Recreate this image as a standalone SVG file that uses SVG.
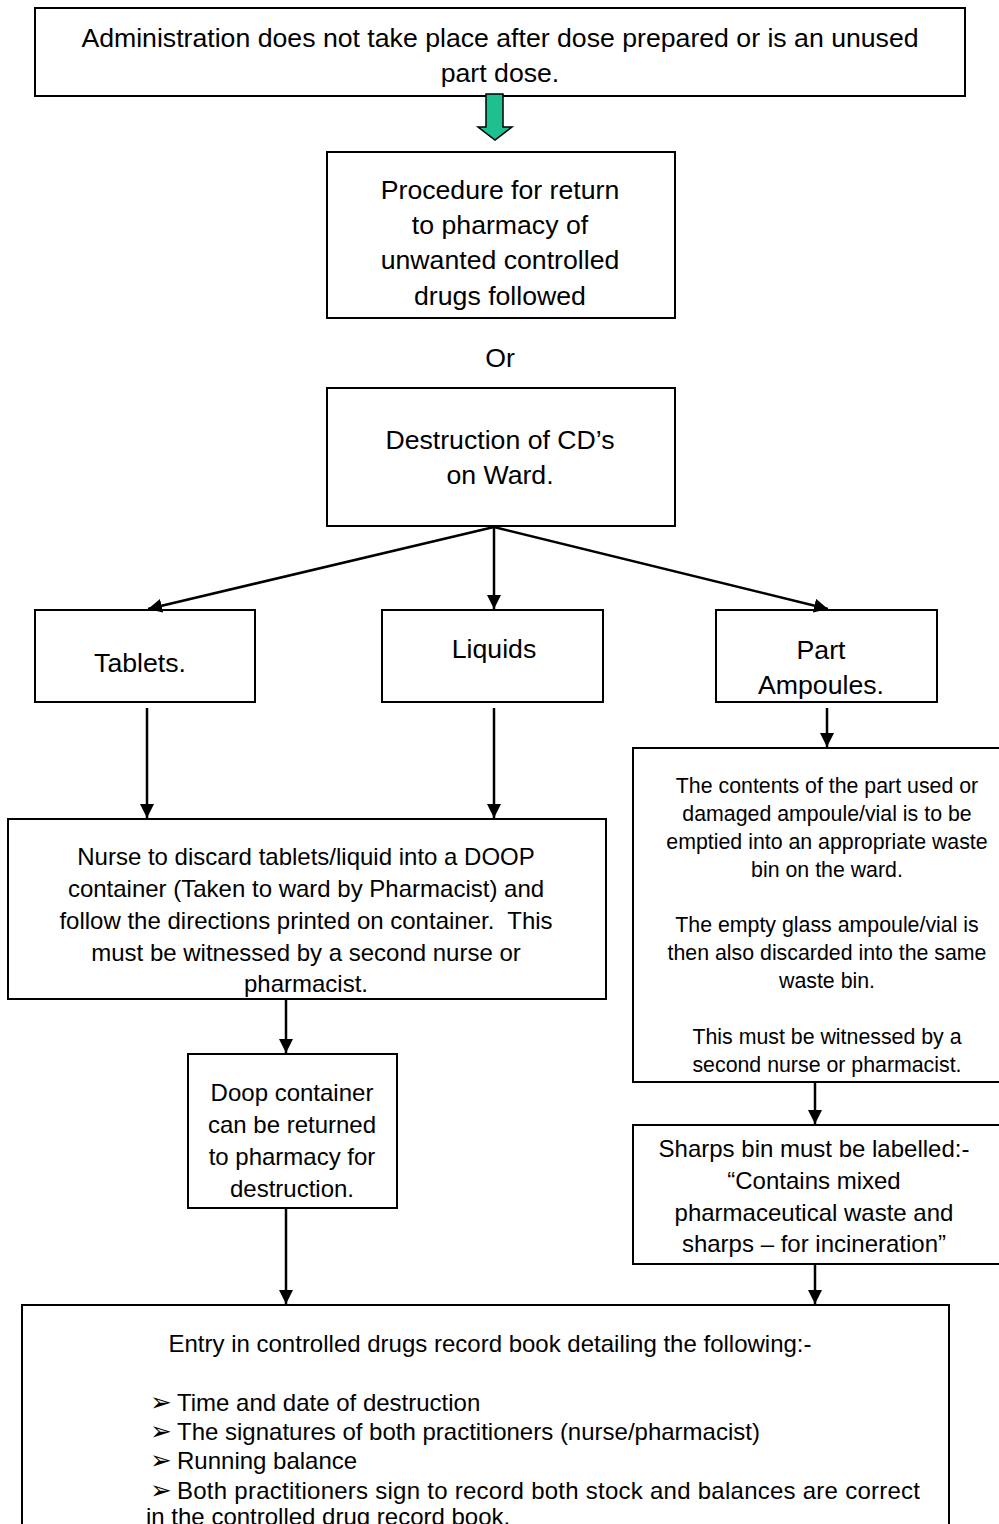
<svg xmlns="http://www.w3.org/2000/svg" width="999" height="1524" viewBox="0 0 999 1524">
  <defs>
    <marker id="arrow" markerWidth="14" markerHeight="14" refX="14" refY="7" orient="auto" markerUnits="userSpaceOnUse">
      <path d="M0,0 L14,7 L0,14 Z" fill="#000"/>
    </marker>
  </defs>
  <style>
    .box { fill: #fff; stroke: #000; stroke-width: 2; }
    .t { font-family: "Liberation Sans", Arial, sans-serif; fill: #000; text-anchor: middle; }
    .l { font-family: "Liberation Sans", Arial, sans-serif; fill: #000; font-size: 24px; }
    .b { font-family: "DejaVu Sans", sans-serif; fill: #000; font-size: 26px; }
    .big { font-size: 26.67px; }
    .mid { font-size: 24px; }
    .small { font-size: 21.33px; }
    .conn { stroke: #000; stroke-width: 2.5; fill: none; marker-end: url(#arrow); }
  </style>
  <rect width="999" height="1524" fill="#fff"/>

  <g id="start">
    <rect class="box" x="35" y="8" width="930" height="88"/>
    <text class="t big" x="500" y="47">Administration does not take place after dose prepared or is an unused</text>
    <text class="t big" x="500" y="82">part dose.</text>
  </g>

  <g id="return-procedure">
    <rect class="box" x="327" y="152" width="348" height="166"/>
    <text class="t big" x="500" y="199">Procedure for return</text>
    <text class="t big" x="500" y="234">to pharmacy of</text>
    <text class="t big" x="500" y="269">unwanted controlled</text>
    <text class="t big" x="500" y="305">drugs followed</text>
  </g>

  <g id="or-label">
    <text class="t big" x="500" y="367">Or</text>
  </g>

  <g id="destruction">
    <rect class="box" x="327" y="388" width="348" height="138"/>
    <text class="t big" x="500" y="449">Destruction of CD’s</text>
    <text class="t big" x="500" y="484">on Ward.</text>
  </g>

  <g id="tablets">
    <rect class="box" x="35" y="610" width="220" height="92"/>
    <text class="t big" x="140" y="672">Tablets.</text>
  </g>

  <g id="liquids">
    <rect class="box" x="382" y="610" width="221" height="92"/>
    <text class="t big" x="494" y="658">Liquids</text>
  </g>

  <g id="part-ampoules">
    <rect class="box" x="716" y="610" width="221" height="92"/>
    <text class="t big" x="821" y="659">Part</text>
    <text class="t big" x="821" y="694">Ampoules.</text>
  </g>

  <g id="discard">
    <rect class="box" x="8" y="819" width="598" height="180"/>
    <text class="t mid" x="306" y="865">Nurse to discard tablets/liquid into a DOOP</text>
    <text class="t mid" x="306" y="897">container (Taken to ward by Pharmacist) and</text>
    <text class="t mid" x="306" y="929" xml:space="preserve">follow the directions printed on container.  This</text>
    <text class="t mid" x="306" y="961">must be witnessed by a second nurse or</text>
    <text class="t mid" x="306" y="992">pharmacist.</text>
  </g>

  <g id="ampoule-disposal">
    <rect class="box" x="633" y="748" width="370" height="334"/>
    <text class="t small" x="827" y="793">The contents of the part used or</text>
    <text class="t small" x="827" y="821">damaged ampoule/vial is to be</text>
    <text class="t small" x="827" y="849">emptied into an appropriate waste</text>
    <text class="t small" x="827" y="877">bin on the ward.</text>
    <text class="t small" x="827" y="932">The empty glass ampoule/vial is</text>
    <text class="t small" x="827" y="960">then also discarded into the same</text>
    <text class="t small" x="827" y="988">waste bin.</text>
    <text class="t small" x="827" y="1044">This must be witnessed by a</text>
    <text class="t small" x="827" y="1072">second nurse or pharmacist.</text>
  </g>

  <g id="doop-return">
    <rect class="box" x="188" y="1054" width="209" height="154"/>
    <text class="t mid" x="292" y="1101">Doop container</text>
    <text class="t mid" x="292" y="1133">can be returned</text>
    <text class="t mid" x="292" y="1165">to pharmacy for</text>
    <text class="t mid" x="292" y="1197">destruction.</text>
  </g>

  <g id="sharps-label">
    <rect class="box" x="633" y="1125" width="370" height="139"/>
    <text class="t mid" x="814" y="1157">Sharps bin must be labelled:-</text>
    <text class="t mid" x="814" y="1189">“Contains mixed</text>
    <text class="t mid" x="814" y="1221">pharmaceutical waste and</text>
    <text class="t mid" x="814" y="1252">sharps – for incineration”</text>
  </g>

  <g id="record-entry">
    <rect class="box" x="22" y="1305" width="927" height="230"/>
    <text class="t mid" x="490" y="1352">Entry in controlled drugs record book detailing the following:-</text>
    <text class="b" x="150" y="1411">➢</text>
    <text class="l" x="177" y="1411">Time and date of destruction</text>
    <text class="b" x="150" y="1440">➢</text>
    <text class="l" x="177" y="1440">The signatures of both practitioners (nurse/pharmacist)</text>
    <text class="b" x="150" y="1469">➢</text>
    <text class="l" x="177" y="1469">Running balance</text>
    <text class="b" x="150" y="1499">➢</text>
    <text class="l" x="177" y="1499" textLength="743" lengthAdjust="spacing">Both practitioners sign to record both stock and balances are correct</text>
    <text class="l" x="146" y="1525">in the controlled drug record book.</text>
  </g>

  <g id="connectors">
    <path d="M486,94 H503 V127 H512 L495,140 L478,127 H486 Z" fill="#1ec08f" stroke="#000" stroke-width="1.5"/>
    <line class="conn" x1="494" y1="527" x2="148" y2="609"/>
    <line class="conn" x1="494" y1="527" x2="494" y2="609"/>
    <line class="conn" x1="494" y1="527" x2="828" y2="609"/>
    <line class="conn" x1="147" y1="708" x2="147" y2="818"/>
    <line class="conn" x1="494" y1="708" x2="494" y2="818"/>
    <line class="conn" x1="827" y1="708" x2="827" y2="747"/>
    <line class="conn" x1="286" y1="1000" x2="286" y2="1053"/>
    <line class="conn" x1="815" y1="1083" x2="815" y2="1124"/>
    <line class="conn" x1="286" y1="1209" x2="286" y2="1304"/>
    <line class="conn" x1="815" y1="1265" x2="815" y2="1304"/>
  </g>
</svg>
